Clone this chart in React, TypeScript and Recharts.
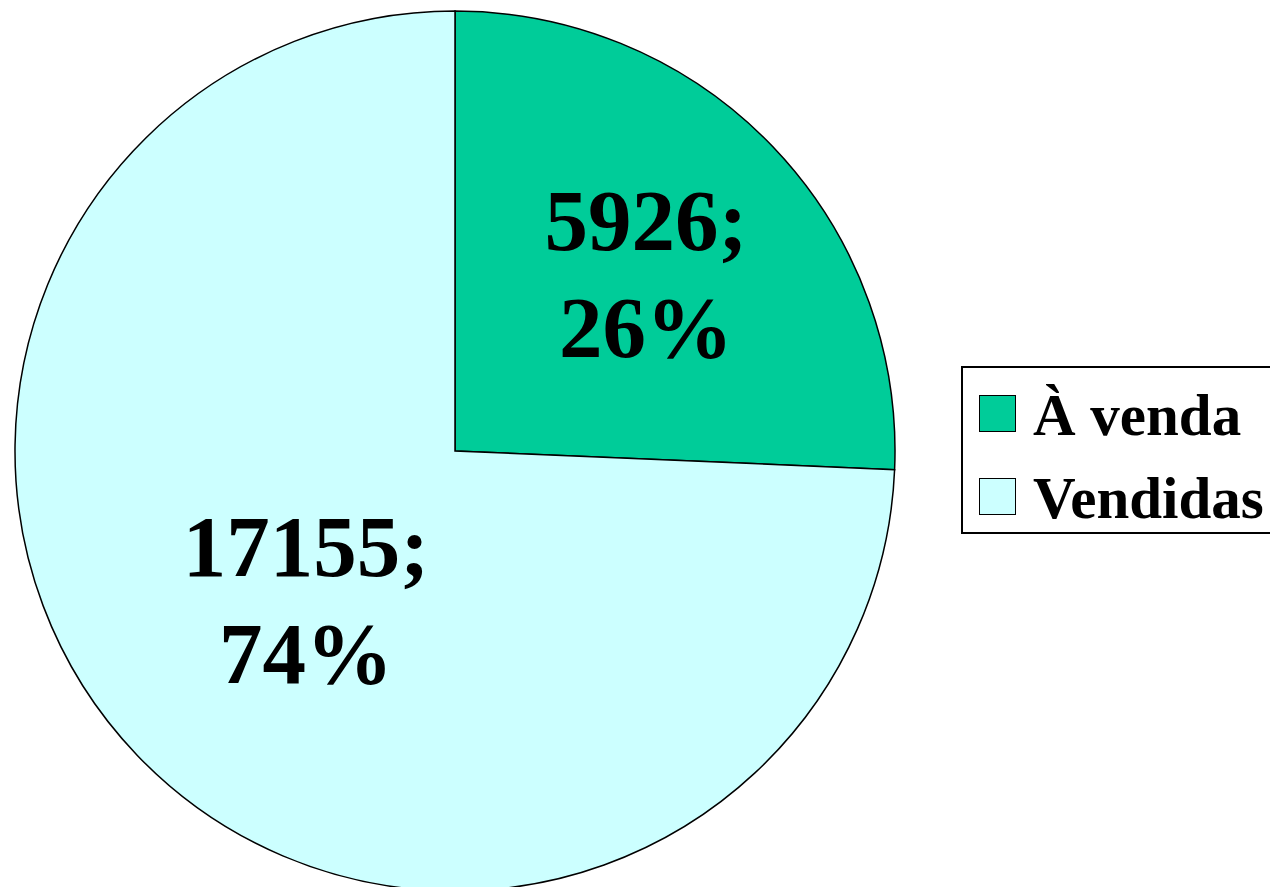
import React from "react";
import { Pie, PieChart, Cell, Legend } from "recharts";

const categories = ["À venda", "Vendidas"];
const values = [5926, 17155];
const percents = ["26%", "74%"];
const colors = ["#00CC99", "#CCFFFF"];

const data = categories.map((name, i) => ({ name, value: values[i] }));

const RADIAN = Math.PI / 180;
const FONT = '"Liberation Serif", "Times New Roman", serif';

const renderLabel = ({ cx, cy, midAngle, outerRadius, index }: any) => {
  const r = outerRadius * 0.535;
  const x = cx + r * Math.cos(-midAngle * RADIAN) + 21;
  const y = cy + r * Math.sin(-midAngle * RADIAN) + 15;
  return (
    <text
      x={x}
      y={y}
      textAnchor="middle"
      fontFamily={FONT}
      fontWeight="bold"
      fontSize={87}
      fill="#000"
    >
      <tspan x={x} y={y - 53}>{`${values[index]};`}</tspan>
      <tspan x={x} y={y + 54}>{percents[index]}</tspan>
    </text>
  );
};

// legend box runs past the right edge of the picture, like the original
const renderLegend = () => (
  <div
    style={{
      position: "relative",
      width: 420,
      minWidth: 420,
      height: 168,
      border: "2px solid #000",
      boxSizing: "border-box",
      background: "#fff",
      fontFamily: FONT,
      fontWeight: "bold",
      fontSize: 59,
    }}
  >
    {categories.map((name, i) => (
      <React.Fragment key={name}>
        <div
          style={{
            position: "absolute",
            left: 16,
            top: 27 + i * 83,
            width: 37,
            height: 37,
            boxSizing: "border-box",
            border: "1.5px solid #000",
            background: colors[i],
          }}
        />
        <div
          style={{
            position: "absolute",
            left: 70,
            top: 18 + i * 83,
            lineHeight: "59px",
            whiteSpace: "nowrap",
            color: "#000",
          }}
        >
          {name}
        </div>
      </React.Fragment>
    ))}
  </div>
);

export default function App() {
  return (
    <div style={{ width: 1270, height: 887, overflow: "hidden", position: "relative" }}>
      <style>{"body { margin: 0; overflow: hidden; }"}</style>
      <PieChart width={1270} height={887} margin={{ top: 0, right: 0, bottom: 0, left: 0 }}>
        <Pie
          data={data}
          dataKey="value"
          cx={455}
          cy={451}
          outerRadius={440}
          startAngle={90}
          endAngle={-270}
          stroke="#000"
          strokeWidth={1.5}
          label={renderLabel}
          labelLine={false}
          isAnimationActive={false}
        >
          {data.map((d, i) => (
            <Cell key={d.name} fill={colors[i]} />
          ))}
        </Pie>
        <Legend
          content={renderLegend}
          wrapperStyle={{ left: 961, top: 366, width: 420, bottom: "auto", overflow: "visible" }}
        />
      </PieChart>
    </div>
  );
}
